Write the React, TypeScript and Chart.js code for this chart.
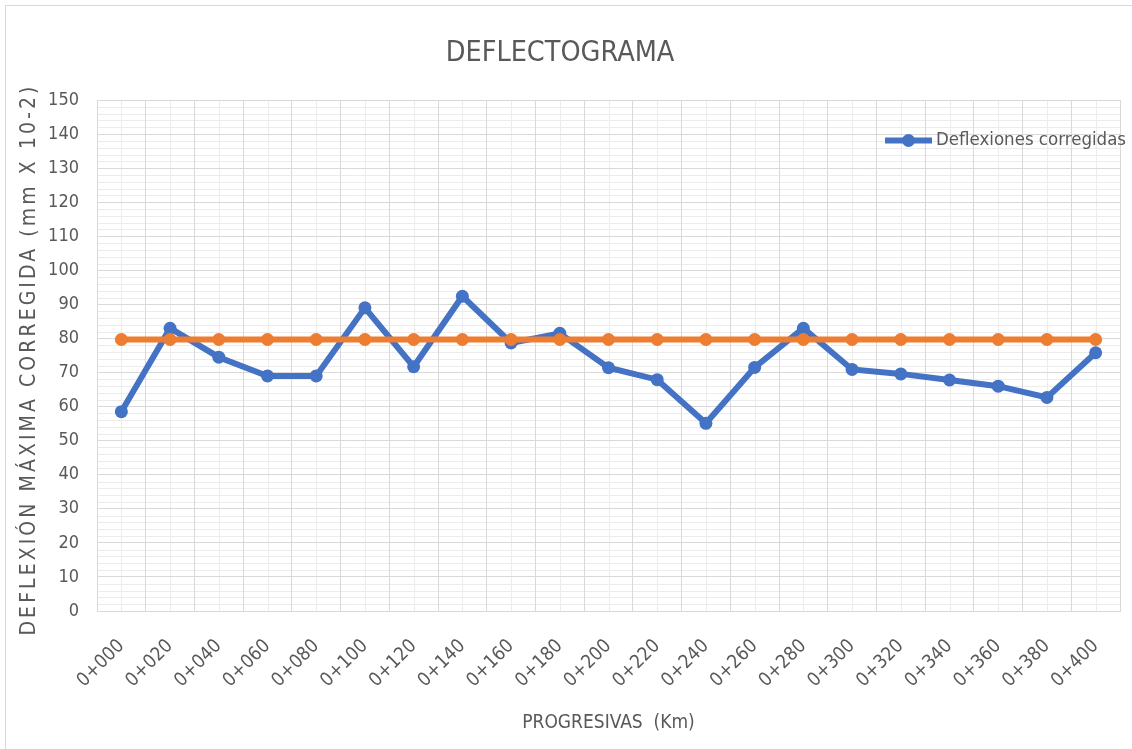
import React, { useEffect, useRef } from 'react';
import { Chart, registerables } from 'chart.js';

Chart.register(...registerables);

const categories = [
  '0+000', '0+020', '0+040', '0+060', '0+080', '0+100', '0+120', '0+140', '0+160', '0+180', '0+200',
  '0+220', '0+240', '0+260', '0+280', '0+300', '0+320', '0+340', '0+360', '0+380', '0+400',
];
const deflexiones = [58.5, 83, 74.5, 69, 69, 89, 71.7, 92.4, 78.7, 81.5, 71.4, 67.9, 55.1, 71.5, 83, 70.9, 69.6, 67.8, 66, 62.7, 75.8];
const referencia = [79.7, 79.7, 79.7, 79.7, 79.7, 79.7, 79.7, 79.7, 79.7, 79.7, 79.7, 79.7, 79.7, 79.7, 79.7, 79.7, 79.7, 79.7, 79.7, 79.7, 79.7];
const yMin = 0;
const yMax = 150;
const yStep = 10;
const yMinorStep = 2;

const chartTitle = 'DEFLECTOGRAMA';
const yTitle = 'DEFLEXIÓN MÁXIMA CORREGIDA (mm X 10-2)';
const xTitle = 'PROGRESIVAS  (Km)';
const legendLabel = 'Deflexiones corregidas';
const referenciaLabel = 'Deflexión característica';

const FONT = "'DejaVu Sans Condensed', 'Liberation Sans', sans-serif";
const TEXT = '#595959';
const BLUE = '#4472C4';
const ORANGE = '#ED7D31';

const minorGrid = {
  id: 'minorGrid',
  beforeDraw(chart: any) {
    const { ctx, chartArea, scales } = chart;
    const { left, right, top, bottom } = chartArea;
    const x = scales.x;
    const y = scales.y;
    ctx.save();
    ctx.strokeStyle = '#ececec';
    ctx.lineWidth = 1;
    ctx.beginPath();
    for (let v = yMin; v <= yMax; v += yMinorStep) {
      if (v % yStep === 0) continue;
      const py = Math.round(y.getPixelForValue(v)) + 0.5;
      ctx.moveTo(left, py);
      ctx.lineTo(right, py);
    }
    for (let i = 0; i < categories.length; i++) {
      const px = Math.round(x.getPixelForValue(i)) + 0.5;
      ctx.moveTo(px, top);
      ctx.lineTo(px, bottom);
    }
    ctx.stroke();
    ctx.restore();
  },
};

const decorations = {
  id: 'decorations',
  afterDraw(chart: any) {
    const { ctx, chartArea } = chart;
    // Y axis title with letter spacing
    ctx.save();
    ctx.font = `21px ${FONT}`;
    ctx.fillStyle = TEXT;
    const target = 552;
    const w = ctx.measureText(yTitle).width;
    const n = yTitle.length;
    const spacing = Math.max(0, (target - w) / n);
    (ctx as any).letterSpacing = `${spacing}px`;
    ctx.translate(30, (chartArea.top + chartArea.bottom) / 2 + 4);
    ctx.rotate(-Math.PI / 2);
    ctx.textAlign = 'center';
    ctx.textBaseline = 'middle';
    ctx.fillText(yTitle, 0, 0);
    ctx.restore();

    // Legend entry inside plot area
    ctx.save();
    const ly = 140.5;
    ctx.strokeStyle = BLUE;
    ctx.lineWidth = 6;
    ctx.lineCap = 'butt';
    ctx.beginPath();
    ctx.moveTo(885, ly);
    ctx.lineTo(932, ly);
    ctx.stroke();
    ctx.fillStyle = BLUE;
    ctx.beginPath();
    ctx.arc(908.5, ly, 6.5, 0, Math.PI * 2);
    ctx.fill();
    ctx.font = `18.5px ${FONT}`;
    ctx.fillStyle = TEXT;
    ctx.textAlign = 'left';
    ctx.textBaseline = 'middle';
    ctx.fillText(legendLabel, 936, ly);
    ctx.restore();
  },
};

export default function App() {
  const canvasRef = useRef<HTMLCanvasElement | null>(null);

  useEffect(() => {
    document.body.style.margin = '0';
    document.body.style.overflow = 'hidden';
    const canvas = canvasRef.current;
    if (!canvas) return;
    const chart = new Chart(canvas, {
      type: 'line',
      data: {
        labels: categories,
        datasets: [
          {
            label: legendLabel,
            data: deflexiones,
            borderColor: BLUE,
            backgroundColor: BLUE,
            borderWidth: 6,
            pointRadius: 6.5,
            pointHoverRadius: 6.5,
            pointBorderWidth: 0,
            tension: 0,
            order: 1,
          },
          {
            label: referenciaLabel,
            data: referencia,
            borderColor: ORANGE,
            backgroundColor: ORANGE,
            borderWidth: 6,
            pointRadius: 6.5,
            pointHoverRadius: 6.5,
            pointBorderWidth: 0,
            tension: 0,
            order: 0,
          },
        ],
      },
      options: {
        responsive: false,
        animation: false,
        layout: { padding: { left: 0, right: 12, top: 0, bottom: 12 } },
        plugins: {
          legend: { display: false },
          tooltip: { enabled: false },
          title: {
            display: true,
            text: chartTitle,
            color: TEXT,
            font: { family: FONT, size: 28.5, weight: 'normal' },
            padding: { top: 36, bottom: 29.8 },
          },
        },
        scales: {
          x: {
            offset: true,
            grid: { offset: true, color: '#d9d9d9', drawTicks: false },
            border: { color: '#d9d9d9' },
            ticks: {
              color: TEXT,
              font: { family: FONT, size: 19 },
              minRotation: 45,
              maxRotation: 45,
              autoSkip: false,
              padding: 24,
            },
            title: {
              display: true,
              text: xTitle,
              color: TEXT,
              font: { family: FONT, size: 19 },
              padding: { top: 0, bottom: 3 },
            },
            afterFit(scale: any) {
              scale.height = 126;
              scale.paddingLeft = 0;
              scale.paddingRight = 0;
            },
          },
          y: {
            min: yMin,
            max: yMax,
            grid: { color: '#d9d9d9', drawTicks: false },
            border: { color: '#d9d9d9' },
            ticks: {
              stepSize: yStep,
              color: TEXT,
              font: { family: FONT, size: 18 },
              padding: 18,
            },
            afterFit(scale: any) {
              scale.width = 97;
            },
          },
        },
      },
      plugins: [minorGrid, decorations],
    });
    return () => chart.destroy();
  }, []);

  return (
    <div style={{ position: 'relative', width: 1132, height: 749, overflow: 'hidden', background: '#ffffff' }}>
      <div
        style={{
          position: 'absolute',
          left: 5,
          top: 5,
          width: 1140,
          height: 760,
          border: '1px solid #d9d9d9',
          boxSizing: 'border-box',
        }}
      />
      <canvas ref={canvasRef} width={1132} height={749} style={{ position: 'absolute', left: 0, top: 0, display: 'block' }} />
    </div>
  );
}
